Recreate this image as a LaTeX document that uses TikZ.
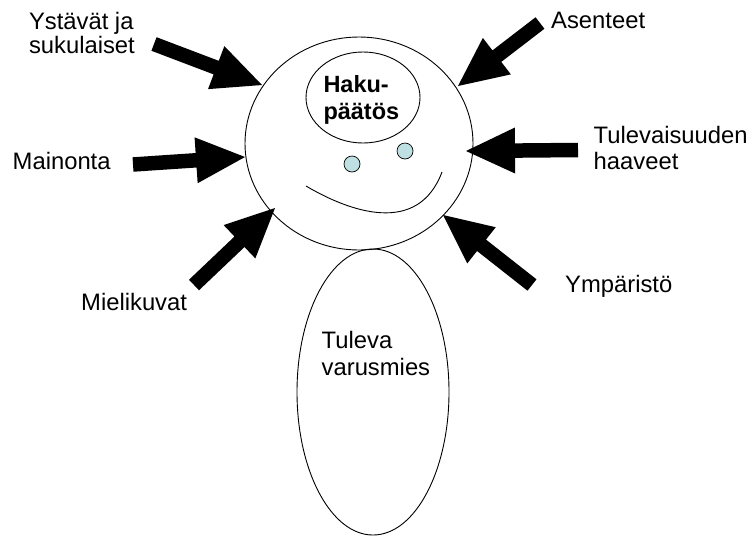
\documentclass[tikz,border=0pt]{standalone}
\usepackage{fontspec}
\setmainfont{Liberation Sans}
\usetikzlibrary{calc,shapes.geometric}
\definecolor{eyefill}{RGB}{190,224,227}

% Block arrow from tail #1 to tip #2: 14.5pt shaft, 46pt head, 49pt head length
\newcommand\blockarrow[2]{%
  \coordinate (ba-h) at ($(#2)!49pt!(#1)$);
  \fill[black] ($(#1)!7.25pt!90:(#2)$) -- ($(ba-h)!7.25pt!90:(#2)$)
    -- ($(ba-h)!23pt!90:(#2)$) -- (#2) -- ($(ba-h)!23pt!-90:(#2)$)
    -- ($(ba-h)!7.25pt!-90:(#2)$) -- ($(#1)!7.25pt!-90:(#2)$) -- cycle;
}
% Two left-aligned lines whose baseline is that of the first line
\newcommand\twoline[3][26.5pt]{\vtop{\baselineskip=#1\hbox{#2}\hbox{#3}}}

\begin{document}
\begin{tikzpicture}[x=1pt,y=-1pt,
  outline/.style={draw=black,line width=0.9pt},
  oval/.style={ellipse,outline,inner sep=0pt},
  eye/.style={circle,draw=black,line width=0.7pt,fill=eyefill,inner sep=0pt,minimum size=16pt},
  lbl/.style={inner sep=0pt,anchor=base west,font=\fontsize{23.8}{26.5}\selectfont}]
\useasboundingbox (0,0) rectangle (751,536);

% figure
\node[oval,minimum width=228pt,minimum height=213pt] (head) at (359,143.5) {};
\node[oval,minimum width=152pt,minimum height=286pt] (body) at (373,392) {};
\node[oval,minimum width=114pt,minimum height=91pt] (decision) at (363,97.5) {};
\node[eye] (eyeL) at (352,164) {};
\node[eye] (eyeR) at (405,151) {};
\coordinate (smileL) at (306,186);
\coordinate (smileR) at (442,172);
\draw[outline] (smileL) .. controls (350,212) and (418,236) .. (smileR);

% texts
\node[lbl,font=\fontsize{23.5}{26.5}\selectfont\bfseries] (decisiontext) at (323.3,92) {\twoline[27pt]{Haku-}{päätös}};
\node[lbl] (bodytext) at (321.5,348) {\twoline[27pt]{Tuleva}{varusmies}};
\node[lbl] (friends) at (28.8,29.2) {\twoline[24.2pt]{Ystävät ja}{sukulaiset}};
\node[lbl] (attitudes) at (551,28) {Asenteet};
\node[lbl] (ads) at (12.5,169) {Mainonta};
\node[lbl] (images) at (81,310) {Mielikuvat};
\node[lbl] (dreams) at (593.5,143.5) {\twoline[26pt]{Tulevaisuuden}{haaveet}};
\node[lbl] (surroundings) at (565,292) {Ympäristö};

% arrows pointing at the head
\coordinate (a1t) at (154,44);    \coordinate (a1h) at (262,85);
\coordinate (a2t) at (540,23);    \coordinate (a2h) at (458,86);
\coordinate (a3t) at (133,164.5); \coordinate (a3h) at (245,157);
\coordinate (a4t) at (194,285);   \coordinate (a4h) at (275,208);
\coordinate (a5t) at (578,150);   \coordinate (a5h) at (466,151);
\coordinate (a6t) at (532,285);   \coordinate (a6h) at (443,215);
\blockarrow{a1t}{a1h}
\blockarrow{a2t}{a2h}
\blockarrow{a3t}{a3h}
\blockarrow{a4t}{a4h}
\blockarrow{a5t}{a5h}
\blockarrow{a6t}{a6h}
\end{tikzpicture}
\end{document}
